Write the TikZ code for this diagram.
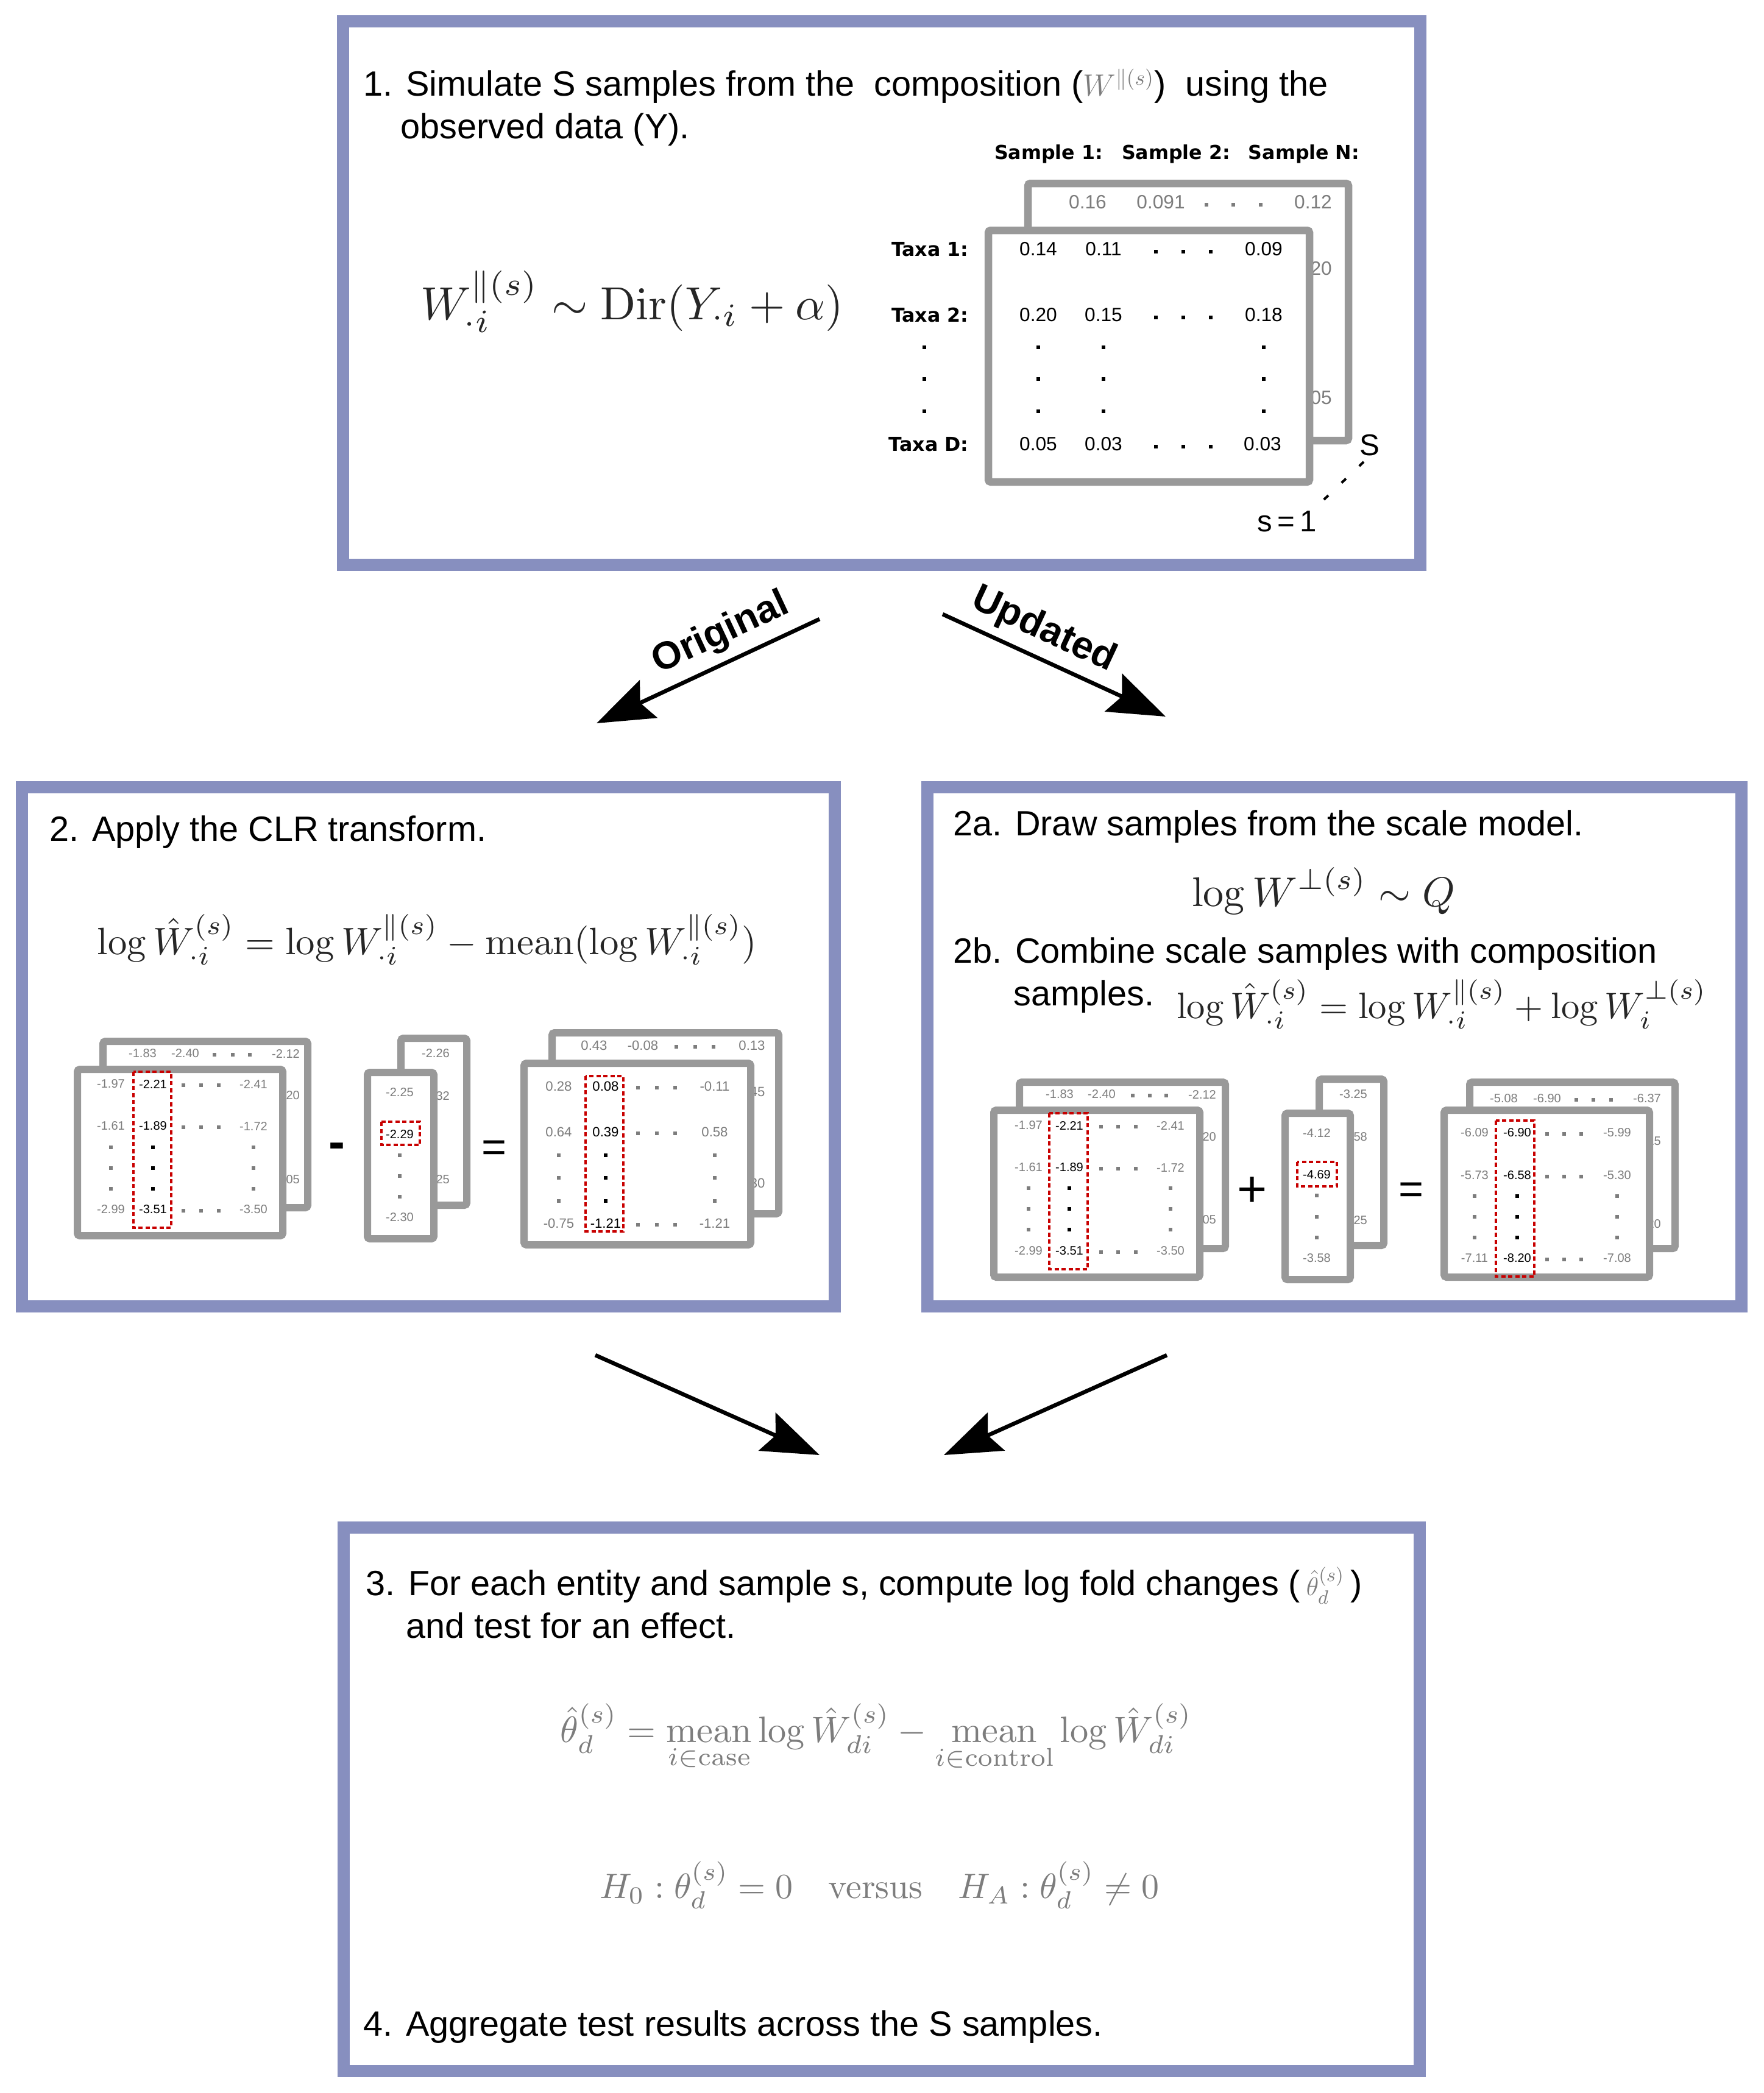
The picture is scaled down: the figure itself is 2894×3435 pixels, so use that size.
\documentclass[tikz,border=0pt]{standalone}
\usepackage[no-math]{fontspec}
\setmainfont{Liberation Sans}
\newfontfamily\djv{DejaVu Sans}
\usepackage{amsmath}
\usepackage{graphicx}
\usetikzlibrary{arrows.meta}
\definecolor{boxblue}{RGB}{135,143,191}
\definecolor{matgray}{RGB}{153,153,153}
\definecolor{numgray}{RGB}{125,125,125}
\definecolor{mgray}{RGB}{125,125,125}
\definecolor{dred}{RGB}{200,0,0}
\newcount\ndc
\newcommand\V[4]{\global\advance\ndc by 1\relax\node[#1] (v\the\ndc) at (#2,#3) {#4};}
\newcommand\D[4][2.8]{\fill[#2] (#3,#4) ++(-#1,-#1) rectangle ++({2*#1},{2*#1});}
\tikzset{
  panel/.style={draw=boxblue, line width=2mm, fill=white, inner sep=0, outer sep=0},
  mboxA/.style={draw=matgray, line width=1.25mm, fill=white, rounded corners=0.4mm},
  mboxB/.style={draw=matgray, line width=1.2mm, fill=white, rounded corners=0.4mm},
  redbox/.style={draw=dred, line width=0.45mm, dash pattern=on 0.7mm off 0.45mm},
  big/.style={font=\fontsize{16.4}{20.5}\selectfont, anchor=base west, inner sep=0},
  sn/.style={font=\fontsize{5.7}{6}\selectfont, inner sep=0, text=numgray},
  snb/.style={sn, text=black},
  mn/.style={font=\fontsize{6.3}{7}\selectfont, inner sep=0, text=numgray},
  mnb/.style={mn, text=black},
  tn/.style={font=\fontsize{9}{10}\selectfont, inner sep=0},
  tng/.style={tn, text=numgray},
  hdr/.style={font=\djv\bfseries\fontsize{9}{10}\selectfont, inner sep=0},
  flow/.style={line width=0.66mm, -{Stealth[length=9.4mm,width=6.8mm,inset=1.5mm]}},
  alab/.style={font=\bfseries\fontsize{18}{18}\selectfont, inner sep=0},
  fml/.style={inner sep=0}
}
\begin{document}
\begin{tikzpicture}[x=0.1mm,y=-0.1mm]
\useasboundingbox (0,0) rectangle (2894,3435);
\fill[white] (0,0) rectangle (2894,3435);

% ---------------- panels
\node[panel, minimum width=176.8mm, minimum height=89.2mm] (p1) at (1447,481) {};
\node[panel, minimum width=133.4mm, minimum height=85.2mm] (p2) at (703,1718) {};
\node[panel, minimum width=133.6mm, minimum height=85.2mm] (p2b) at (2190,1718) {};
\node[panel, minimum width=176.6mm, minimum height=89.2mm] (p3) at (1447,2953) {};

% ---------------- box 1
\node[big] (t1a) at (596,158) {1. Simulate S samples from the\ \ composition ({\color{mgray}\fontsize{14}{14}\selectfont$W^{\parallel(s)}$})\ \ using the};
\node[big] (t1b) at (657,228) {observed data (Y).};
\node[fml] (f1) at (1037,495) {\color{black!85}\resizebox{69.4mm}{!}{$\displaystyle W^{\parallel(s)}_{\cdot i}\sim\mathrm{Dir}(Y_{\cdot i}+\alpha)$}};

\node[hdr, anchor=base] (h1) at (1721,262) {Sample 1:};
\node[hdr, anchor=base] (h2) at (1930,262) {Sample 2:};
\node[hdr, anchor=base] (h3) at (2140,262) {Sample N:};

\draw[mboxA] (1687,301) rectangle (2213,723);
\V{tng}{1785}{332}{0.16}
\V{tng}{1905}{332}{0.091}
\V{tng}{2155}{332}{0.12}
\V{tng}{2155}{441}{0.20}
\V{tng}{2155}{653}{0.05}
\D[3.3]{numgray}{1980}{336}\D[3.3]{numgray}{2024}{336}\D[3.3]{numgray}{2069}{336}

\draw[mboxA] (1622,378) rectangle (2149,791);
\V{tn}{1704}{409}{0.14}\V{tn}{1811}{409}{0.11}\V{tn}{2074}{409}{0.09}
\V{tn}{1704}{517}{0.20}\V{tn}{1811}{517}{0.15}\V{tn}{2074}{517}{0.18}
\V{tn}{1704}{729}{0.05}\V{tn}{1811}{729}{0.03}\V{tn}{2072}{729}{0.03}
\foreach \yy in {413,521,733}{\D[3.3]{black}{1897}{\yy}\D[3.3]{black}{1942}{\yy}\D[3.3]{black}{1987}{\yy}}
\foreach \yy in {570,622,675}{\D[3.3]{black}{1704}{\yy}\D[3.3]{black}{1811}{\yy}\D[3.3]{black}{2074}{\yy}\D[3.3]{black}{1517}{\yy}}
\node[hdr, anchor=east] (r1) at (1590,409) {Taxa 1:};
\node[hdr, anchor=east] (r2) at (1590,517) {Taxa 2:};
\node[hdr, anchor=east] (r3) at (1590,729) {Taxa D:};
\node[font=\fontsize{14}{14}\selectfont, inner sep=0] (sS) at (2248,731) {S};
\node[font=\fontsize{14}{14}\selectfont, inner sep=0] (s1) at (2112,856) {s\,=\,1};
\draw[line width=0.4mm, dash pattern=on 1mm off 3mm] (2238,758) -- (2160,832);

% ---------------- arrows top
\coordinate (oa) at (1345,1016); \coordinate (ob) at (979,1187);
\coordinate (ua) at (1547,1008); \coordinate (ub) at (1913,1176);
\draw[flow] (oa) -- (ob);
\draw[flow] (ua) -- (ub);
\node[alab, rotate=25] (lo) at (1183,1040) {Original};
\node[alab, rotate=-25] (lu) at (1713,1034) {Updated};

% ---------------- box 2
\node[big] (t2) at (81,1380) {2. Apply the CLR transform.};
\node[fml] (f2) at (701,1542) {\color{black!85}\resizebox{108.2mm}{!}{$\displaystyle \log\hat W^{(s)}_{\cdot i} = \log W^{\parallel(s)}_{\cdot i} - \mathrm{mean}(\log W^{\parallel(s)}_{\cdot i})$}};

% left stack
\draw[mboxB] (169,1709) rectangle (505,1982);
\V{sn}{234}{1729}{-1.83}\V{sn}{304}{1729}{-2.40}\V{sn}{469}{1729}{-2.12}
\V{sn}{469}{1798}{-2.20}\V{sn}{469}{1936}{-3.05}
\D{numgray}{352}{1731}\D{numgray}{382}{1731}\D{numgray}{410}{1731}
\draw[mboxB] (127,1755) rectangle (464,2028);
\V{sn}{182}{1779}{-1.97}\V{snb}{251}{1779}{-2.21}\V{sn}{416}{1779}{-2.41}
\V{sn}{182}{1848}{-1.61}\V{snb}{251}{1848}{-1.89}\V{sn}{416}{1848}{-1.72}
\V{sn}{182}{1985}{-2.99}\V{snb}{251}{1985}{-3.51}\V{sn}{416}{1985}{-3.50}
\foreach \yy in {1781,1850,1987}{\D{numgray}{301}{\yy}\D{numgray}{330}{\yy}\D{numgray}{359}{\yy}}
\foreach \yy in {1883,1917,1951}{\D{numgray}{182}{\yy}\D{black}{251}{\yy}\D{numgray}{416}{\yy}}
\draw[redbox] (219,1759) rectangle (281,2015);

\V{font=\bfseries\fontsize{23}{23}\selectfont, inner sep=0, anchor=base}{553}{1901}{-}

% middle stack
\draw[mboxB] (658,1704) rectangle (766,1978);
\V{sn}{715}{1729}{-2.26}\V{sn}{715}{1799}{-2.32}\V{sn}{715}{1936}{-2.25}
\draw[mboxB] (603,1760) rectangle (712,2033);
\V{sn}{656}{1793}{-2.25}\V{snb}{656}{1862}{-2.29}\V{sn}{656}{1998}{-2.30}
\D{numgray}{656}{1896}\D{numgray}{656}{1930}\D{numgray}{656}{1964}
\draw[redbox] (626,1841) rectangle (689,1879);

\V{font=\fontsize{20}{20}\selectfont, inner sep=0, anchor=base}{811}{1906}{=}

% right stack
\draw[mboxB] (906,1695) rectangle (1278,1992);
\V{mn}{975}{1716}{0.43}\V{mn}{1055}{1716}{-0.08}\V{mn}{1234}{1716}{0.13}
\V{mn}{1234}{1792}{0.45}\V{mn}{1234}{1942}{0.30}
\D{numgray}{1110}{1718}\D{numgray}{1141}{1718}\D{numgray}{1171}{1718}
\draw[mboxB] (860,1745) rectangle (1232,2043);
\V{mn}{917}{1783}{0.28}\V{mnb}{994}{1783}{0.08}\V{mn}{1173}{1783}{-0.11}
\V{mn}{917}{1858}{0.64}\V{mnb}{994}{1858}{0.39}\V{mn}{1173}{1858}{0.58}
\V{mn}{917}{2008}{-0.75}\V{mnb}{994}{2008}{-1.21}\V{mn}{1173}{2008}{-1.21}
\foreach \yy in {1785,1860,2010}{\D{numgray}{1047}{\yy}\D{numgray}{1078}{\yy}\D{numgray}{1108}{\yy}}
\foreach \yy in {1896,1933,1971}{\D{numgray}{917}{\yy}\D{black}{994}{\yy}\D{numgray}{1173}{\yy}}
\draw[redbox] (961,1766) rectangle (1023,2021);

% ---------------- box 2a/2b
\node[big] (t2a) at (1564,1371) {2a. Draw samples from the scale model.};
\node[fml] (f2a) at (2172,1462) {\color{black!85}\resizebox{43.2mm}{!}{$\displaystyle \log W^{\perp(s)}\sim Q$}};
\node[big] (t2b) at (1564,1580) {2b. Combine scale samples with composition};
\node[big] (t2c) at (1663,1650) {samples.};
\node[fml] (f2b) at (2366,1648) {\color{black!85}\resizebox{87mm}{!}{$\displaystyle \log\hat W^{(s)}_{\cdot i} = \log W^{\parallel(s)}_{\cdot i} + \log W^{\perp(s)}_{i}$}};

% left stack
\draw[mboxB] (1673,1776) rectangle (2011,2049);
\V{sn}{1739}{1796}{-1.83}\V{sn}{1808}{1796}{-2.40}\V{sn}{1973}{1796}{-2.12}
\V{sn}{1973}{1866}{-2.20}\V{sn}{1973}{2002}{-3.05}
\D{numgray}{1859}{1798}\D{numgray}{1887}{1798}\D{numgray}{1914}{1798}
\draw[mboxB] (1631,1822) rectangle (1969,2096);
\V{sn}{1688}{1847}{-1.97}\V{snb}{1755}{1847}{-2.21}\V{sn}{1921}{1847}{-2.41}
\V{sn}{1688}{1916}{-1.61}\V{snb}{1755}{1916}{-1.89}\V{sn}{1921}{1916}{-1.72}
\V{sn}{1688}{2053}{-2.99}\V{snb}{1755}{2053}{-3.51}\V{sn}{1921}{2053}{-3.50}
\foreach \yy in {1849,1918,2055}{\D{numgray}{1807}{\yy}\D{numgray}{1835}{\yy}\D{numgray}{1864}{\yy}}
\foreach \yy in {1950,1984,2018}{\D{numgray}{1688}{\yy}\D{black}{1755}{\yy}\D{numgray}{1921}{\yy}}
\draw[redbox] (1722,1827) rectangle (1785,2083);

\V{font=\fontsize{24}{24}\selectfont, inner sep=0, anchor=base}{2055}{1980}{+}

% middle stack
\draw[mboxB] (2165,1771) rectangle (2271,2044);
\V{sn}{2221}{1796}{-3.25}\V{sn}{2221}{1866}{-2.58}\V{sn}{2221}{2003}{-3.25}
\draw[mboxB] (2109,1827) rectangle (2216,2100);
\V{sn}{2161}{1859}{-4.12}\V{snb}{2161}{1928}{-4.69}\V{sn}{2161}{2065}{-3.58}
\D{numgray}{2161}{1962}\D{numgray}{2161}{1997}\D{numgray}{2161}{2031}
\draw[redbox] (2129,1907) rectangle (2194,1947);

\V{font=\fontsize{20}{20}\selectfont, inner sep=0, anchor=base}{2316}{1975}{=}

% right stack
\draw[mboxB] (2412,1776) rectangle (2749,2049);
\V{sn}{2468}{1803}{-5.08}\V{sn}{2539}{1803}{-6.90}\V{sn}{2703}{1803}{-6.37}
\V{sn}{2703}{1873}{-6.15}\V{sn}{2703}{2009}{-7.20}
\D{numgray}{2587}{1805}\D{numgray}{2615}{1805}\D{numgray}{2644}{1805}
\draw[mboxB] (2370,1822) rectangle (2707,2096);
\V{sn}{2420}{1859}{-6.09}\V{snb}{2490}{1859}{-6.90}\V{sn}{2654}{1859}{-5.99}
\V{sn}{2420}{1929}{-5.73}\V{snb}{2490}{1929}{-6.58}\V{sn}{2654}{1929}{-5.30}
\V{sn}{2420}{2065}{-7.11}\V{snb}{2490}{2065}{-8.20}\V{sn}{2654}{2065}{-7.08}
\foreach \yy in {1861,1931,2067}{\D{numgray}{2539}{\yy}\D{numgray}{2567}{\yy}\D{numgray}{2595}{\yy}}
\foreach \yy in {1963,1997,2031}{\D{numgray}{2420}{\yy}\D{black}{2490}{\yy}\D{numgray}{2654}{\yy}}
\draw[redbox] (2455,1839) rectangle (2518,2095);

% ---------------- arrows bottom
\coordinate (la) at (977,2224); \coordinate (lb) at (1345,2388);
\coordinate (ra) at (1915,2224); \coordinate (rb) at (1549,2388);
\draw[flow] (la) -- (lb);
\draw[flow] (ra) -- (rb);

% ---------------- box 3
\node[big] (t3a) at (600,2618) {3. For each entity and sample s, compute log fold changes (\,{\color{mgray}\fontsize{13}{13}\selectfont$\hat\theta^{(s)}_d$}\,)};
\node[big] (t3b) at (666,2688) {and test for an effect.};
\node[fml] (f3a) at (1438,2852) {\color{mgray}\resizebox{103.6mm}{!}{$\displaystyle \hat\theta^{(s)}_d = \operatorname*{mean}_{i\in\mathrm{case}}\log\hat W^{(s)}_{di} - \operatorname*{mean}_{i\in\mathrm{control}}\log\hat W^{(s)}_{di}$}};
\node[fml] (f3b) at (1443,3094) {\color{mgray}\resizebox{91.8mm}{!}{$\displaystyle H_0:\theta^{(s)}_d = 0\quad\mathrm{versus}\quad H_A:\theta^{(s)}_d\neq 0$}};
\node[big] (t4) at (596,3341) {4. Aggregate test results across the S samples.};
\end{tikzpicture}
\end{document}
